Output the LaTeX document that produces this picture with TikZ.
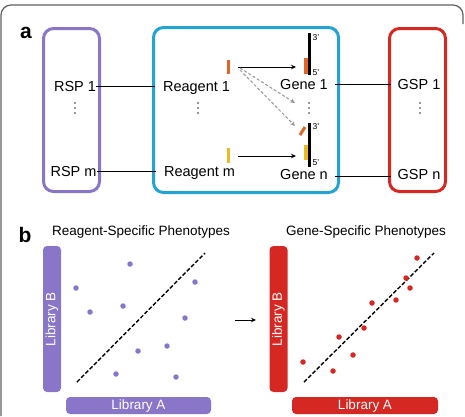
\documentclass[tikz,border=0pt]{standalone}
\usepackage{fontspec}
\setmainfont{Liberation Sans}
\usetikzlibrary{arrows.meta}
\definecolor{cpurple}{RGB}{137,118,201}
\definecolor{cblue}{RGB}{36,163,213}
\definecolor{cred}{RGB}{214,40,34}
\definecolor{corange}{RGB}{222,102,40}
\definecolor{cyellow}{RGB}{236,186,34}
\definecolor{cframe}{RGB}{95,95,95}
\definecolor{cdash}{RGB}{150,150,150}
\begin{document}
\begin{tikzpicture}[x=1pt,y=-1pt,
  lbl/.style={inner sep=0pt, anchor=base, font=\fontsize{14.5}{16}\selectfont},
  small/.style={inner sep=0pt, anchor=west, font=\fontsize{8.5}{9}\selectfont},
  panel/.style={inner sep=0pt, anchor=base, font=\fontsize{21}{22}\selectfont\bfseries},
  ptitle/.style={inner sep=0pt, anchor=base, font=\fontsize{13.5}{15}\selectfont},
  dotc/.style={circle, fill=black!80, inner sep=0pt, minimum size=1.9pt},
  group/.style={draw, line width=3pt, rounded corners=10pt, inner sep=0pt},
  conn/.style={black, line width=1pt},
  arr/.style={black, line width=1pt, -{Stealth[length=5pt,width=4.5pt]}},
  garr/.style={cdash, line width=1pt, dash pattern=on 3pt off 2pt, -{Stealth[length=5pt,width=4.5pt]}},
  bar/.style={line width=3pt},
  axisbar/.style={inner sep=0pt, rounded corners=4pt, text=white, font=\fontsize{13.5}{15}\selectfont},
  diag/.style={black, line width=1.4pt, dash pattern=on 4pt off 2pt},
  pdot/.style={circle, fill=cpurple, inner sep=0pt, minimum size=5.5pt},
  rdot/.style={circle, fill=cred, inner sep=0pt, minimum size=5.5pt}
]
\useasboundingbox (0,0) rectangle (465,416);
% outer frame
\draw[cframe, line width=1.2pt, rounded corners=10pt] (1,416) -- (1,5) -- (463,5) -- (463,24);

% panel a
\node[panel] (pa) at (26,38) {a};
\node[group, draw=cpurple, minimum width=56pt, minimum height=163pt] (rspbox) at (71.5,110) {};
\node[group, draw=cblue, minimum width=185pt, minimum height=165pt] (reabox) at (246,110) {};
\node[group, draw=cred, minimum width=56pt, minimum height=163pt] (gspbox) at (417.5,110) {};

\node[lbl] (rsp1) at (75,91) {RSP 1};
\node[lbl] (rspm) at (73.5,176) {RSP m};
\node[lbl] (rea1) at (196.5,91) {Reagent 1};
\node[lbl] (ream) at (199.5,176) {Reagent m};
\node[lbl] (gene1) at (304,89) {Gene 1};
\node[lbl] (genen) at (304,179) {Gene n};
\node[lbl] (gsp1) at (419,89) {GSP 1};
\node[lbl] (gspn) at (419,179) {GSP n};

% vertical ellipses
\foreach \x [count=\j] in {75,198,309,420}
  \foreach \y [count=\k] in {103,108,113}
    \node[dotc] (dv\j-\k) at (\x,\y) {};

\draw[conn, shorten >=8pt] (rsp1.east) -- (rsp1.east -| rea1.west);
\draw[conn, shorten >=8pt] (rspm.east) -- (rspm.east -| ream.west);
\draw[conn, shorten <=7pt, shorten >=6pt] (gene1.east) -- (gene1.east -| gsp1.west);
\draw[conn, shorten <=7pt, shorten >=6pt] ([yshift=-2pt]genen.east) -- ([yshift=-2pt]genen.east -| gspn.west);

% reagent bars
\coordinate (r1) at (228,67);
\coordinate (rm) at (228,156);
\draw[bar, corange] (228,60) -- (228,74);
\draw[bar, cyellow] (228,148) -- (228,163);
% gene bars
\coordinate (g1) at (309,67);
\coordinate (gn) at (309,156);
\draw[bar, black] (309,33) -- (309,75);
\draw[line width=4pt, corange] (306,58) -- (306,74);
\draw[bar, black] (309,123) -- (309,167);
\draw[line width=4pt, cyellow] (306,145) -- (306,160);
\draw[line width=3pt, corange] (300,135) -- (305,127);
\node[small] (g1t) at (312.5,38) {3’};
\node[small] (g1b) at (312.5,73) {5’};
\node[small] (gnt) at (312.5,127) {3’};
\node[small] (gnb) at (312.5,163) {5’};
\coordinate (gmid) at (309,103);
\coordinate (gnup) at (309,126);

\draw[arr] ([xshift=10pt]r1) -- ([xshift=-13pt]g1);
\draw[arr] ([xshift=10pt]rm) -- ([xshift=-13pt]gn);
\draw[garr] ([xshift=12pt,yshift=-1pt]r1) -- ([xshift=-14pt]gmid);
\draw[garr] ([xshift=12pt,yshift=-3pt]r1) -- ([xshift=-14pt]gnup);

% panel b
\node[panel] (pb) at (25,242) {b};
\node[ptitle] (t1) at (141,235) {Reagent-Specific Phenotypes};
\node[ptitle] (t2) at (366,235) {Gene-Specific Phenotypes};

\node[axisbar, fill=cpurple, rotate=90, minimum width=146pt, minimum height=18pt] (pby) at (52,319) {Library B};
\node[axisbar, fill=cpurple, minimum width=145pt, minimum height=17pt] (pbx) at (138.5,405.5) {Library A};
\node[axisbar, fill=cred, rotate=90, minimum width=146pt, minimum height=18pt] (rby) at (278.5,319) {Library B};
\node[axisbar, fill=cred, minimum width=146pt, minimum height=17pt] (rbx) at (365,405.5) {Library A};

\coordinate (pd1) at (77,382);
\coordinate (pd2) at (205,253);
\draw[diag] (pd1) -- (pd2);
\coordinate (rd1) at (304,382);
\coordinate (rd2) at (434,253);
\draw[diag] (rd1) -- (rd2);

\foreach \x/\y [count=\i] in {130/264, 76/288, 195/282, 90/312, 123/306, 185/318, 138/351, 167/346, 116/374, 176/377}
  \node[pdot] (p\i) at (\x,\y) {};
\foreach \x/\y [count=\i] in {417/258, 406/278, 410/288, 396/300, 372/303, 364/328, 339/337, 353/355, 303/362, 333/371}
  \node[rdot] (q\i) at (\x,\y) {};

\coordinate (ba1) at (235,320);
\coordinate (ba2) at (256,320);
\draw[arr] (ba1) -- (ba2);
\end{tikzpicture}
\end{document}
